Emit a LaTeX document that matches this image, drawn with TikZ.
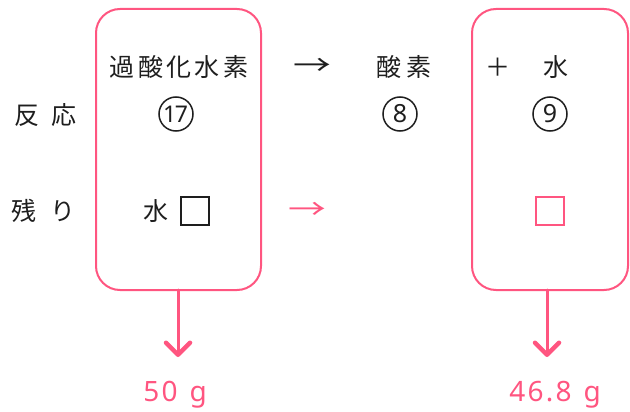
\documentclass[tikz,border=0pt]{standalone}
\usepackage{fontspec}
\setmainfont{Noto Sans CJK JP}[Scale=1]
\newfontfamily\jp{Noto Sans CJK JP}
\newfontfamily\num{Noto Sans}
\usetikzlibrary{arrows.meta}
\definecolor{pk}{HTML}{FF5580}
\definecolor{ink}{HTML}{1E1E1E}
\tikzset{
  box/.style={draw=pk, line width=2pt, rounded corners=24pt},
  jt/.style={text=ink, font=\jp\fontsize{25}{28}\selectfont, inner sep=0pt},
  tarrow/.style={text=ink, font=\jp\fontsize{28}{30}\selectfont, inner sep=0pt, xscale=1.35},
  circnum/.style={draw=ink, circle, line width=1.5pt, minimum size=34pt, inner sep=0pt, text=ink, font=\num\fontsize{25}{28}\selectfont},
  sq/.style={draw=#1, line width=2pt, minimum size=28pt, inner sep=0pt},
  garrow/.style={draw=pk, line width=3pt, line cap=round, -{Straight Barb[length=12pt,width=24pt,line width=4.5pt,round]}},
  mass/.style={text=pk, font=\num\fontsize{28}{34}\selectfont\addfontfeature{LetterSpace=8}, inner sep=0pt},
}
\begin{document}
\begin{tikzpicture}[x=1pt,y=-1pt]
\useasboundingbox (0,0) rectangle (630,412);
% boxes
\draw[box] (96,9) rectangle (261,290);
\draw[box] (472,9) rectangle (628,290);
\coordinate (b1) at (178,290);
\coordinate (b2) at (547,290);
% row labels
\node[jt] (hanno) at (45,115) {反\hspace{12pt}応};
\node[jt] (nokori) at (44,211) {残\hspace{14pt}り};
% reaction line
\node[jt] (kasan) at (179,67) {\addfontfeature{LetterSpace=14}過酸化水素};
\node[tarrow] (ar1) at (312,67) {→};
\node[jt] (sanso) at (404,67) {酸\hspace{5pt}素};
\node[jt] (plus) at (498,67) {＋};
\node[jt] (mizu) at (556,67) {水};
% circled numbers
\node[circnum, font=\num\fontsize{23}{26}\selectfont] (c17) at (176,114) {\kern-1pt1\kern-1.5pt7};
\node[circnum] (c8) at (400,114) {8};
\node[circnum] (c9) at (550,114) {9};
% remainder row
\node[jt] (mizu2) at (156,211) {水};
\node[sq=ink] (sq1) at (195,211) {};
\node[tarrow, text=pk] (ar2) at (307,211) {→};
\node[sq=pk] (sq2) at (550,211) {};
% masses
\node[mass] (m1) at (175,395) {50\kern12pt g};
\node[mass] (m2) at (555,395) {46.8\kern12pt g};
\coordinate (a1) at (178,357);
\coordinate (a2) at (547,357);
\draw[garrow] (b1) -- (a1);
\draw[garrow] (b2) -- (a2);
\end{tikzpicture}
\end{document}
